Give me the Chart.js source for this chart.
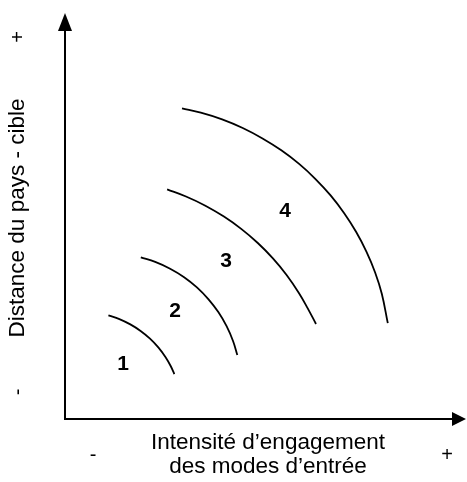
<!DOCTYPE html>
<html>
<head>
<meta charset="utf-8">
<script src="https://cdn.jsdelivr.net/npm/chart.js@4/dist/chart.umd.min.js"></script>
<style>
html,body{margin:0;padding:0;background:#fff;}
#wrap{width:467px;height:482px;}
</style>
</head>
<body>
<div id="wrap"><canvas id="c" width="467" height="482"></canvas></div>
<script>
// Axis titles and signs
const xTitleLines = ['Intensité d\u2019engagement', 'des modes d\u2019entrée'];
const yTitle = 'Distance du pays - cible';
const lowSign = '-';
const highSign = '+';

// Zone labels and positions (data units, 0-100 on both axes)
const zoneLabels = ['1', '2', '3', '4'];
const zoneX = [14.5, 27.5, 40.25, 55];
const zoneY = [13.5, 26.6, 38.9, 51.2];

// Arc curves (data units)
const arc1X = [10.85, 13.6, 16.33, 18.9, 21.25, 23.33, 25.15, 26.45, 27.33];
const arc1Y = [25.52, 24.61, 23.3, 21.7, 19.8, 17.64, 15.22, 13.0, 11.08];
const arc2X = [18.95, 22.55, 26.28, 29.78, 32.98, 35.83, 38.33, 40.4, 42.03, 43.08];
const arc2Y = [39.83, 38.69, 37.02, 34.93, 32.41, 29.53, 26.33, 22.86, 19.16, 15.76];
const arc3X = [25.53, 30.25, 35.1, 39.73, 44.13, 48.2, 51.98, 55.4, 58.43, 60.58, 62.75];
const arc3Y = [56.57, 54.8, 52.54, 49.85, 46.77, 43.35, 39.56, 35.47, 31.1, 27.44, 23.4];
const arc4X = [29.25, 33.95, 39.28, 44.43, 49.38, 54.08, 58.53, 62.63, 66.4, 69.8, 72.8, 75.38, 77.53, 79.2, 80.7];
const arc4Y = [76.5, 75.44, 73.8, 71.67, 69.1, 66.18, 62.83, 59.11, 55.07, 50.69, 46.06, 41.18, 36.1, 30.86, 23.6];

const arcsX = [arc1X, arc2X, arc3X, arc4X];
const arcsY = [arc1Y, arc2Y, arc3Y, arc4Y];

const datasets = arcsX.map((xs, i) => ({
  label: 'Zone ' + zoneLabels[i],
  data: xs.map((x, j) => ({x: x, y: arcsY[i][j]})),
  showLine: true,
  borderColor: '#000',
  borderWidth: 1.8,
  pointRadius: 0,
  tension: 0.4,
  fill: false
}));

const FONT = '"Liberation Sans", Arial, Helvetica, sans-serif';

const overlay = {
  id: 'overlay',
  afterDatasetsDraw(chart) {
    const ctx = chart.ctx;
    const xs = chart.scales.x, ys = chart.scales.y;
    const x0 = xs.getPixelForValue(0);
    const y0 = ys.getPixelForValue(0);
    const xEnd = xs.getPixelForValue(100);
    const yEnd = ys.getPixelForValue(100);
    ctx.save();
    // axes
    ctx.strokeStyle = '#000';
    ctx.fillStyle = '#000';
    ctx.lineWidth = 2;
    ctx.beginPath();
    ctx.moveTo(x0, y0);
    ctx.lineTo(x0, yEnd + 16);
    ctx.moveTo(x0 - 1, y0);
    ctx.lineTo(xEnd - 12, y0);
    ctx.stroke();
    // y arrow head
    ctx.beginPath();
    ctx.moveTo(x0, yEnd);
    ctx.lineTo(x0 - 7, yEnd + 18);
    ctx.lineTo(x0 + 7, yEnd + 18);
    ctx.closePath();
    ctx.fill();
    // x arrow head
    ctx.beginPath();
    ctx.moveTo(xEnd + 1, y0);
    ctx.lineTo(xEnd - 13, y0 - 7);
    ctx.lineTo(xEnd - 13, y0 + 7);
    ctx.closePath();
    ctx.fill();

    // zone labels
    ctx.font = 'bold 21px ' + FONT;
    ctx.textAlign = 'center';
    ctx.textBaseline = 'middle';
    zoneLabels.forEach((t, i) => {
      ctx.fillText(t, xs.getPixelForValue(zoneX[i]), ys.getPixelForValue(zoneY[i]));
    });

    // x title
    ctx.font = '22.5px ' + FONT;
    ctx.fillText(xTitleLines[0], 268, 443);
    ctx.fillText(xTitleLines[1], 268, 467);
    ctx.font = '20px ' + FONT;
    ctx.fillText(lowSign, 93, 455);
    ctx.fillText(highSign, 447, 455);

    // y title
    ctx.font = '22.5px ' + FONT;
    ctx.save();
    ctx.translate(18, 218);
    ctx.rotate(-Math.PI / 2);
    ctx.fillText(yTitle, 0, 0);
    ctx.restore();
    ctx.font = '20px ' + FONT;
    ctx.save();
    ctx.translate(18, 392);
    ctx.rotate(-Math.PI / 2);
    ctx.fillText(lowSign, 0, 0);
    ctx.restore();
    ctx.save();
    ctx.translate(18, 37);
    ctx.rotate(-Math.PI / 2);
    ctx.fillText(highSign, 0, 0);
    ctx.restore();
    ctx.restore();
  }
};

new Chart(document.getElementById('c'), {
  type: 'scatter',
  data: { datasets: datasets },
  options: {
    responsive: false,
    animation: false,
    layout: { padding: { left: 65, top: 13, right: 2, bottom: 63 } },
    plugins: { legend: { display: false }, tooltip: { enabled: false } },
    scales: {
      x: { type: 'linear', min: 0, max: 100, display: false },
      y: { type: 'linear', min: 0, max: 100, display: false }
    }
  },
  plugins: [overlay]
});
</script>
</body>
</html>
